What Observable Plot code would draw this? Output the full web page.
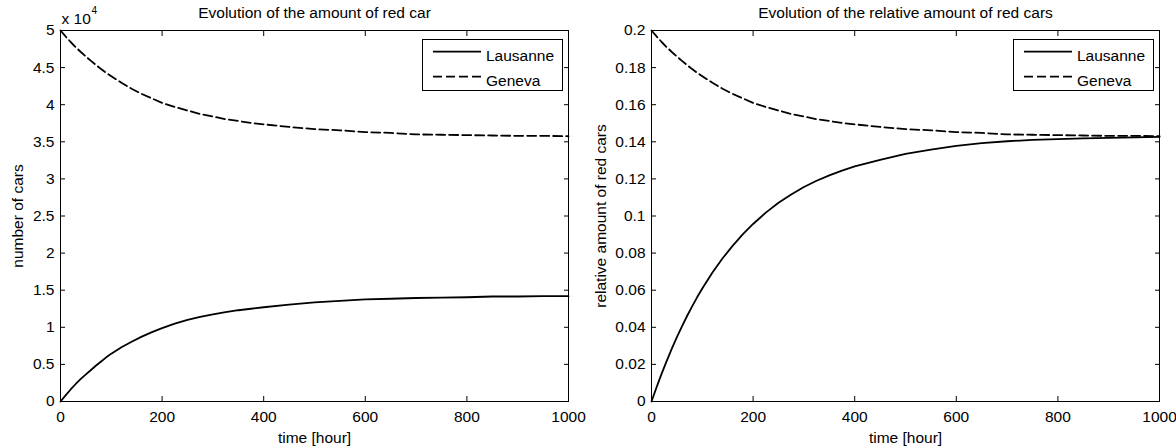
<!DOCTYPE html>
<html><head><meta charset="utf-8">
<script src="https://cdn.jsdelivr.net/npm/d3@7"></script>
<script src="https://cdn.jsdelivr.net/npm/@observablehq/plot@0.6"></script>
<style>
html,body{margin:0;padding:0;background:#fff;}
#wrap{display:flex;width:1176px;height:448px;overflow:hidden;}
</style></head>
<body><div id="wrap"></div>
<script>
const seriesNames = ["Lausanne", "Geneva"];
const time = [0,10,20,30,40,50,60,70,80,90,100,120,140,160,180,200,225,250,275,300,325,350,375,400,450,500,550,600,650,700,750,800,850,900,950,1000];
const lausanneCars = [0,830,1620,2360,3050,3650,4250,4850,5400,5950,6450,7300,8050,8750,9350,9900,10500,11000,11400,11750,12050,12300,12500,12700,13050,13350,13550,13750,13850,13950,14000,14050,14150,14150,14200,14200];
const genevaCars = [50000,49200,48450,47750,47100,46500,45900,45350,44800,44300,43850,42950,42150,41450,40850,40250,39700,39200,38750,38400,38050,37800,37550,37350,37000,36700,36550,36300,36200,36000,35950,35900,35850,35800,35800,35750];
const lausanneRel = [0,0.0077,0.0150,0.0219,0.0285,0.0347,0.0405,0.0461,0.0513,0.0563,0.0609,0.0695,0.0772,0.0840,0.0902,0.0957,0.1018,0.1071,0.1116,0.1156,0.1190,0.1219,0.1245,0.1268,0.1303,0.1335,0.1358,0.1378,0.1393,0.1403,0.1410,0.1414,0.1418,0.1421,0.1424,0.1427];
const genevaRel = [0.2000,0.1968,0.1938,0.1910,0.1884,0.1860,0.1836,0.1814,0.1792,0.1772,0.1754,0.1718,0.1686,0.1658,0.1634,0.1610,0.1588,0.1568,0.1550,0.1536,0.1522,0.1512,0.1502,0.1494,0.1480,0.1468,0.1462,0.1452,0.1448,0.1440,0.1438,0.1436,0.1434,0.1432,0.1432,0.1430];
const xTicks = [0,200,400,600,800,1000];
const yTicksCars = [0,5000,10000,15000,20000,25000,30000,35000,40000,45000,50000];
const yTicksRel = [0,0.02,0.04,0.06,0.08,0.1,0.12,0.14,0.16,0.18,0.2];
const titles = ["Evolution of the amount of red car", "Evolution of the relative amount of red cars"];
const yLabels = ["number of cars", "relative amount of red cars"];
const xLabel = "time [hour]";

const FONT = "'Liberation Sans', Arial, Helvetica, sans-serif";
const FS = 15.5;

function makePanel({ml, mr, yDomain, yTicks, yFmt, yLabel, yLabelOffset, title, lau, gen, multiplier}) {
  const W = 588;
  const lauData = time.map((t, i) => ({t, v: lau[i]}));
  const genData = time.map((t, i) => ({t, v: gen[i]}));
  const marks = [
    Plot.frame({stroke: "#000", strokeWidth: 1}),
    Plot.axisX(xTicks, {anchor: "bottom", tickSize: -5, fill: "none", stroke: "#000", label: null}),
    Plot.axisX(xTicks, {anchor: "top", tickSize: -5, fill: "none", stroke: "#000", label: null}),
    Plot.axisY(yTicks, {anchor: "left", tickSize: -5, fill: "none", stroke: "#000", label: null}),
    Plot.axisY(yTicks, {anchor: "right", tickSize: -5, fill: "none", stroke: "#000", label: null}),
    Plot.axisX(xTicks, {anchor: "bottom", tickSize: 0, tickPadding: 9, fill: "#000", fontSize: FS, tickFormat: d => String(d),
      label: xLabel, labelAnchor: "center", labelArrow: "none", labelOffset: 41}),
    Plot.axisY(yTicks, {anchor: "left", tickSize: 0, tickPadding: 6, fill: "#000", fontSize: FS, tickFormat: yFmt,
      label: yLabel, labelAnchor: "center", labelArrow: "none", labelOffset: yLabelOffset}),
    Plot.line(lauData, {x: "t", y: "v", stroke: "#000", strokeWidth: 1.8}),
    Plot.line(genData, {x: "t", y: "v", stroke: "#000", strokeWidth: 1.8, strokeDasharray: "9,4"}),
    Plot.text([title], {frameAnchor: "top", textAnchor: "middle", lineAnchor: "bottom", dy: -13, fontSize: FS, fill: "#000"})
  ];
  if (multiplier) {
    marks.push(Plot.text(["x 10"], {frameAnchor: "top-left", textAnchor: "start", lineAnchor: "bottom", dx: 1, dy: -7, fontSize: FS, fill: "#000"}));
    marks.push(Plot.text([multiplier], {frameAnchor: "top-left", textAnchor: "start", lineAnchor: "bottom", dx: 31, dy: -17, fontSize: 10, fill: "#000"}));
  }
  const svg = Plot.plot({
    width: W, height: 448,
    marginLeft: ml, marginRight: mr, marginTop: 30, marginBottom: 47,
    style: {fontFamily: FONT, fontSize: FS + "px", color: "#000", background: "#fff", overflow: "visible"},
    x: {domain: [0, 1000]},
    y: {domain: yDomain},
    marks
  });
  // legend box (top-right inside the axes)
  const s = d3.select(svg);
  const bx = W - mr - 146, by = 39.5, bw = 140, bh = 51;
  const g = s.append("g").attr("font-family", FONT).attr("font-size", FS).attr("text-anchor", "start");
  g.append("rect").attr("x", Math.round(bx) + 0.5).attr("y", by).attr("width", bw).attr("height", bh)
    .attr("fill", "#fff").attr("stroke", "#000").attr("stroke-width", 1);
  const rows = [{name: seriesNames[0], dash: null, y: 51.7}, {name: seriesNames[1], dash: "9,4", y: 76.7}];
  rows.forEach(r => {
    g.append("line").attr("x1", bx + 11).attr("x2", bx + 59).attr("y1", r.y).attr("y2", r.y)
      .attr("stroke", "#000").attr("stroke-width", 1.8).attr("stroke-dasharray", r.dash);
    g.append("text").attr("x", bx + 64).attr("y", r.y + 8.8).attr("fill", "#000")
      .attr("text-anchor", "start").text(r.name);
  });
  return svg;
}

const wrap = document.getElementById("wrap");
wrap.appendChild(makePanel({
  ml: 60, mr: 20, yDomain: [0, 50000], yTicks: yTicksCars,
  yFmt: d => String(d / 10000), yLabel: yLabels[0], yLabelOffset: 49,
  title: titles[0], lau: lausanneCars, gen: genevaCars, multiplier: "4"
}));
wrap.appendChild(makePanel({
  ml: 63, mr: 17, yDomain: [0, 0.2], yTicks: yTicksRel,
  yFmt: d => String(+d.toFixed(2)), yLabel: yLabels[1], yLabelOffset: 57,
  title: titles[1], lau: lausanneRel, gen: genevaRel, multiplier: null
}));
</script>
</body></html>
